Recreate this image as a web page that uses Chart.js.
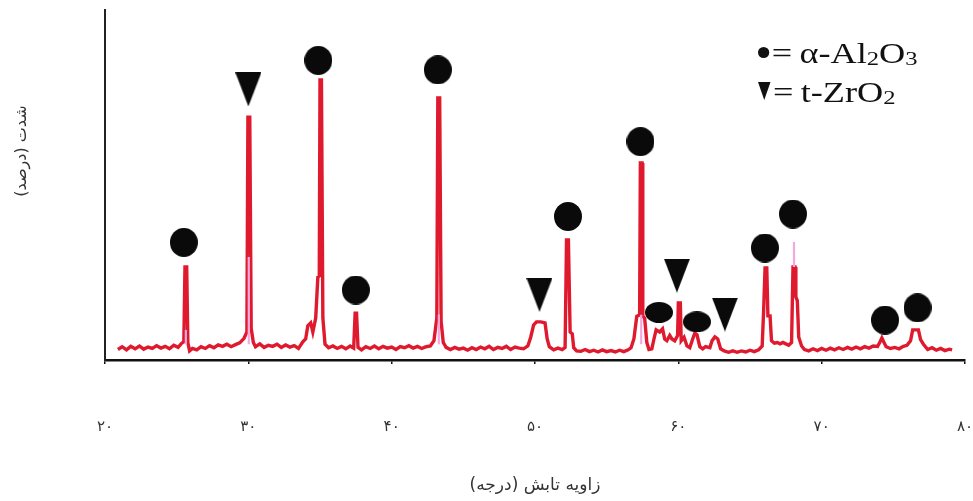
<!DOCTYPE html>
<html lang="fa">
<head>
    <meta charset="UTF-8">
    <title>XRD</title>
    <script src="https://cdn.jsdelivr.net/npm/chart.js"></script>
    <style>
        html, body {
            margin: 0;
            padding: 0;
            background: #fff;
        }
        .wrap {
            position: relative;
            width: 973px;
            height: 501px;
        }
        .legend {
            position: absolute;
            left: 758px;
            top: 34px;
            font-family: "Liberation Serif", serif;
            font-size: 29px;
            line-height: 39px;
            color: #111;
            transform: scaleX(1.25);
            transform-origin: left top;
            white-space: nowrap;
        }
        .legend sub {
            font-size: 0.68em;
            vertical-align: -0.12em;
            line-height: 0;
        }
        .dot {
            display: inline-block;
            width: 9px;
            height: 11px;
            border-radius: 50%;
            background: #111;
            vertical-align: 5px;
            margin-right: 2px;
        }
        .tri {
            display: inline-block;
            width: 0;
            height: 0;
            border-left: 5.5px solid transparent;
            border-right: 5.5px solid transparent;
            border-top: 18px solid #111;
            vertical-align: 2px;
            margin-right: 2px;
        }
    </style>
</head>
<body>
    <div class="wrap">
        <canvas id="xrd" width="973" height="501" dir="rtl"></canvas>
        <div class="legend">
            <div><span class="dot"></span>=&thinsp;α-Al<sub>2</sub>O<sub>3</sub></div>
            <div><span class="tri"></span>=&thinsp;t-ZrO<sub>2</sub></div>
        </div>
    </div>

    <script>
        // محور افقی
        const xTicks = [20, 30, 40, 50, 60, 70, 80];
        const tickLabels = ['۲۰', '۳۰', '۴۰', '۵۰', '۶۰', '۷۰', '۸۰'];

        // طیف اصلی (قرمز)
        const redAngles = [
            20.9, 21.2, 21.5, 21.8, 22.1, 22.4, 22.7, 23.0, 23.3, 23.6, 23.9, 24.2, 24.5, 24.8, 25.1, 25.35, 25.5,
            25.58, 25.7, 25.78, 25.9, 26.1, 26.4, 26.7, 27.0, 27.3, 27.6, 27.9, 28.2, 28.5, 28.8, 29.1, 29.4, 29.7, 29.9,
            29.97, 30.1, 30.2, 30.35, 30.5, 30.8, 31.1, 31.4, 31.7, 32.0, 32.3, 32.6, 32.9, 33.2, 33.5, 33.8, 34.0,
            34.15, 34.35, 34.5, 34.7, 34.85, 34.95, 35.0, 35.1, 35.2, 35.35, 35.6, 35.9, 36.2, 36.5, 36.8, 37.1, 37.35,
            37.45, 37.55, 37.65, 37.9, 38.2, 38.5, 38.8, 39.1, 39.4, 39.7, 40.0, 40.3, 40.6, 40.9, 41.2, 41.5, 41.8,
            42.1, 42.4, 42.7, 42.95, 43.15, 43.22, 43.35, 43.45, 43.6, 43.8, 44.1, 44.4, 44.7, 45.0, 45.3, 45.6, 45.9,
            46.2, 46.5, 46.8, 47.1, 47.4, 47.7, 48.0, 48.3, 48.6, 48.9, 49.2, 49.5, 49.7, 49.9, 50.1, 50.4, 50.7,
            50.85, 51.0, 51.3, 51.6, 51.9, 52.1, 52.2, 52.33, 52.45, 52.6, 52.7, 52.9, 53.2, 53.5, 53.8, 54.1, 54.4,
            54.7, 55.0, 55.3, 55.6, 55.9, 56.2, 56.5, 56.7, 56.9, 57.1, 57.3, 57.35, 57.47, 57.52, 57.65, 57.8, 57.95,
            58.15, 58.3, 58.45, 58.7, 58.9, 59.05, 59.2, 59.4, 59.55, 59.75, 59.95, 60.0, 60.14, 60.2, 60.4, 60.6,
            60.8, 61.0, 61.15, 61.3, 61.5, 61.7, 61.9, 62.2, 62.35, 62.55, 62.75, 62.95, 63.2, 63.5, 63.8, 64.1, 64.4,
            64.7, 65.0, 65.3, 65.6, 65.85, 65.95, 66.05, 66.17, 66.25, 66.4, 66.5, 66.7, 66.9, 67.1, 67.3, 67.5, 67.7,
            67.9, 68.0, 68.14, 68.2, 68.3, 68.4, 68.6, 68.8, 69.1, 69.4, 69.7, 70.0, 70.3, 70.6, 70.9, 71.2, 71.5,
            71.8, 72.1, 72.4, 72.7, 73.0, 73.3, 73.6, 73.9, 74.05, 74.2, 74.35, 74.5, 74.8, 75.1, 75.4, 75.7, 75.95,
            76.2, 76.35, 76.75, 76.9, 77.1, 77.4, 77.7, 78.0, 78.3, 78.6, 78.9, 79.1
        ];
        const redIntensity = [
            3.0, 3.8, 2.9, 3.9, 3.2, 4.0, 3.1, 3.7, 3.3, 4.1, 3.4, 3.9, 3.2, 4.2, 3.6, 4.8, 5.2,
            26.6, 26.6, 5.0, 2.6, 3.3, 2.9, 3.8, 3.3, 4.1, 3.5, 4.3, 3.9, 4.5, 3.8, 4.4, 4.9, 6.2, 8.0,
            69.4, 69.4, 9.0, 5.0, 3.8, 4.6, 3.6, 4.2, 3.9, 4.5, 3.6, 4.3, 3.7, 4.1, 3.3, 5.2, 6.0,
            9.8, 10.6, 8.0, 12.0, 23.7, 24.0, 80.0, 80.0, 12.0, 4.5, 3.5, 4.0, 3.3, 3.9, 3.2, 4.0, 3.4,
            13.4, 13.4, 3.6, 2.9, 3.8, 3.3, 4.0, 3.2, 3.9, 3.4, 3.7, 3.0, 3.8, 3.5, 4.1, 3.4, 3.9,
            3.3, 3.8, 4.0, 5.5, 12.0, 74.9, 74.9, 11.0, 5.0, 3.6, 3.0, 3.6, 3.1, 3.4, 2.8, 3.5, 3.0,
            3.7, 3.2, 3.9, 3.0, 3.6, 3.3, 3.9, 3.0, 3.7, 3.4, 3.2, 4.0, 6.5, 10.0, 10.9, 10.9, 10.6,
            6.0, 3.8, 2.9, 3.4, 3.0, 3.6, 34.3, 34.3, 8.0, 7.5, 3.5, 2.6, 2.5, 3.0, 2.4, 2.8, 2.3,
            2.9, 2.4, 2.7, 2.3, 2.8, 2.4, 2.9, 3.5, 6.0, 12.5, 12.9, 56.3, 56.3, 12.5, 12.0, 5.0, 3.0,
            3.2, 6.0, 8.6, 8.0, 8.9, 6.0, 5.5, 7.0, 6.0, 5.5, 7.0, 16.3, 16.3, 5.5, 6.5, 4.0,
            3.5, 6.0, 7.7, 7.2, 3.8, 3.2, 3.8, 3.5, 5.5, 6.6, 6.0, 3.2, 2.6, 2.2, 2.6, 2.2, 2.6,
            2.3, 2.8, 2.4, 2.9, 4.0, 14.0, 26.3, 26.3, 12.6, 12.6, 5.5, 4.8, 5.0, 4.6, 5.0, 4.6, 4.2,
            5.0, 26.6, 26.6, 18.0, 17.0, 6.5, 4.0, 3.0, 2.6, 3.2, 2.7, 3.3, 2.8, 3.4, 2.9, 3.5, 3.0,
            3.6, 3.1, 3.7, 3.2, 3.8, 3.4, 4.0, 3.9, 5.0, 6.3, 5.0, 3.8, 3.3, 3.6, 3.2, 3.9, 4.2,
            5.5, 8.6, 8.6, 5.8, 4.5, 3.0, 3.5, 2.8, 3.3, 2.7, 3.1, 2.9
        ];

        // طیف دوم (صورتی) در پای قله‌ها
        const pinkAngles = [25.64, 30.03, 43.29, 57.41, 68.07];
        const pinkFrom = [4.5, 4.5, 4.5, 4.5, 26.6];
        const pinkTo = [8.6, 29.4, 13.0, 12.9, 33.7];

        // نشانه‌های فازها
        const aluminaAngles = [25.50, 34.88, 37.50, 43.22, 52.30, 57.36, 58.65, 61.30, 66.04, 68.00, 74.42, 76.69];
        const aluminaHeights = [33.6, 85.6, 20.0, 82.9, 41.0, 62.4, 13.6, 10.9, 32.0, 41.7, 11.4, 14.9];
        const zirconiaAngles = [30.0, 50.31, 59.90, 63.25];
        const zirconiaHeights = [77.3, 18.6, 24.1, 13.0];

        function makeMark(w, h, draw) {
            const c = document.createElement('canvas');
            c.width = w;
            c.height = h;
            const g = c.getContext('2d');
            g.fillStyle = '#0a0a0a';
            draw(g, w, h);
            return c;
        }
        const roundMark = makeMark(28, 29, (g, w, h) => {
            g.beginPath();
            g.ellipse(w / 2, h / 2, w / 2, h / 2, 0, 0, Math.PI * 2);
            g.fill();
        });
        const flatMark = makeMark(28, 21, (g, w, h) => {
            g.beginPath();
            g.ellipse(w / 2, h / 2, w / 2, h / 2, 0, 0, Math.PI * 2);
            g.fill();
        });
        const triMark = makeMark(26, 34, (g, w, h) => {
            g.beginPath();
            g.moveTo(0, 0);
            g.lineTo(w, 0);
            g.lineTo(w / 2, h);
            g.closePath();
            g.fill();
        });

        const redData = redAngles.map((a, i) => ({ x: a, y: redIntensity[i] }));
        const pinkData = [];
        pinkAngles.forEach((a, i) => {
            pinkData.push({ x: a, y: pinkFrom[i] }, { x: a, y: pinkTo[i] }, { x: a, y: null });
        });

        // عنوان محور عمودی
        const yTitle = {
            id: 'yTitle',
            afterDraw(chart) {
                const ctx = chart.ctx;
                ctx.save();
                ctx.translate(22, 151);
                ctx.rotate(-Math.PI / 2);
                ctx.direction = 'rtl';
                ctx.font = '16px "DejaVu Sans"';
                ctx.fillStyle = '#333';
                ctx.textAlign = 'center';
                ctx.textBaseline = 'middle';
                ctx.fillText('شدت (درصد)', 0, 0);
                ctx.restore();
            }
        };

        new Chart(document.getElementById('xrd'), {
            type: 'scatter',
            data: {
                datasets: [
                    {
                        label: 'α-Al2O3',
                        data: aluminaAngles.map((a, i) => ({ x: a, y: aluminaHeights[i] })),
                        pointStyle: ctx => (ctx.raw && ctx.raw.y < 14 && ctx.raw.x > 58 && ctx.raw.x < 62) ? flatMark : roundMark,
                        order: 0
                    },
                    {
                        label: 't-ZrO2',
                        data: zirconiaAngles.map((a, i) => ({ x: a, y: zirconiaHeights[i] })),
                        pointStyle: triMark,
                        order: 0
                    },
                    {
                        label: 'pink',
                        data: pinkData,
                        showLine: true,
                        spanGaps: false,
                        borderColor: '#f3a9de',
                        borderWidth: 2.2,
                        pointRadius: 0,
                        order: 1
                    },
                    {
                        label: 'XRD',
                        data: redData,
                        showLine: true,
                        borderColor: '#e01a2e',
                        borderWidth: 3.4,
                        pointRadius: 0,
                        tension: 0,
                        order: 2
                    }
                ]
            },
            options: {
                responsive: false,
                animation: false,
                devicePixelRatio: 1,
                clip: false,
                layout: { padding: { top: 10, right: 8, left: 0, bottom: 0 } },
                plugins: {
                    legend: { display: false },
                    tooltip: { enabled: false }
                },
                events: [],
                scales: {
                    x: {
                        type: 'linear',
                        min: 20,
                        max: 80,
                        afterFit: s => {
                            s.height = 141;
                            s.paddingLeft = 0;
                            s.paddingRight = 0;
                        },
                        afterBuildTicks: s => { s.ticks = xTicks.map(v => ({ value: v })); },
                        ticks: {
                            padding: 54,
                            autoSkip: false,
                            maxRotation: 0,
                            color: '#333',
                            font: { family: 'DejaVu Sans', size: 15 },
                            callback: v => tickLabels[xTicks.indexOf(v)]
                        },
                        grid: {
                            drawOnChartArea: false,
                            drawTicks: true,
                            tickLength: 4,
                            color: '#111',
                            lineWidth: 1.5
                        },
                        border: { color: '#111', width: 2.5 },
                        title: {
                            display: true,
                            text: 'زاویه تابش (درجه)',
                            color: '#333',
                            font: { family: 'DejaVu Sans', size: 17 },
                            padding: { top: 0, bottom: 5 }
                        }
                    },
                    y: {
                        min: 0,
                        max: 100,
                        afterFit: s => { s.width = 105; },
                        ticks: { display: false },
                        grid: { drawOnChartArea: false, drawTicks: false },
                        border: { color: '#222', width: 2 }
                    }
                }
            },
            plugins: [yTitle]
        });
    </script>
</body>
</html>
